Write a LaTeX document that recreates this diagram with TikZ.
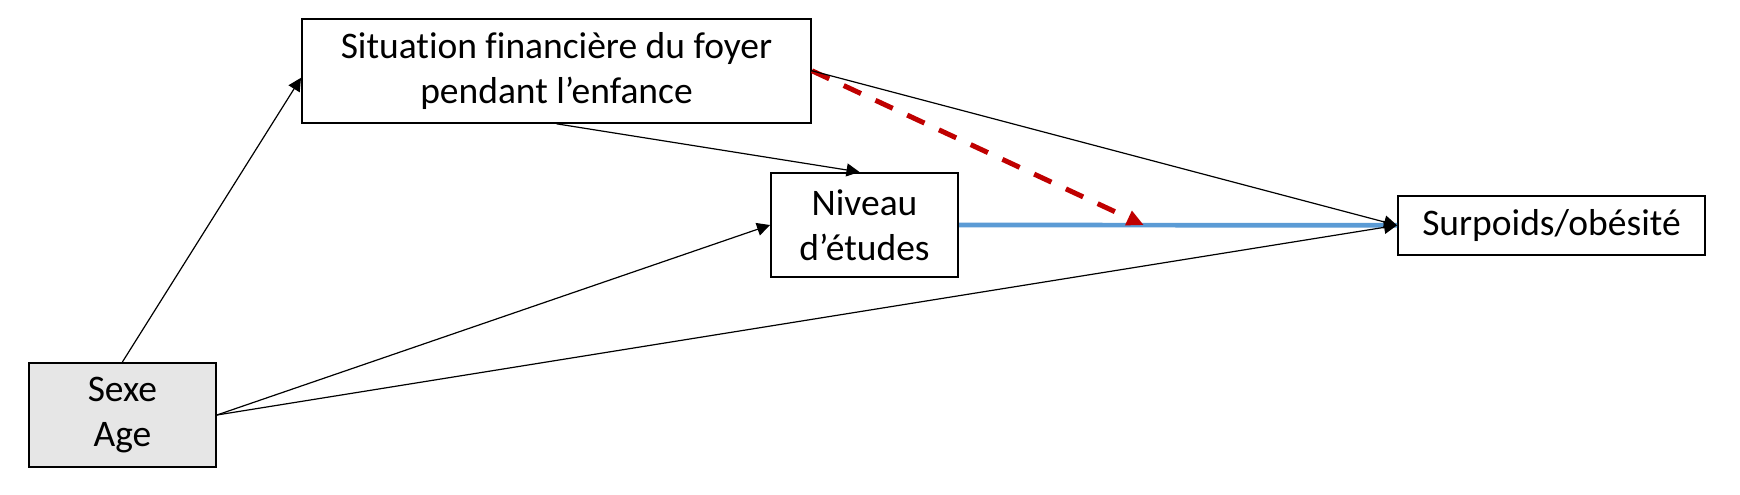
\documentclass[tikz,border=0pt]{standalone}
\usepackage{fontspec}
\setmainfont{Carlito}[Ligatures={NoCommon}]
\usetikzlibrary{arrows.meta,calc}
\definecolor{redarrow}{HTML}{C00000}
\definecolor{bluearrow}{HTML}{5B9BD5}
\definecolor{grayfill}{HTML}{E6E6E6}
\begin{document}
\begin{tikzpicture}[x=1pt,y=-1pt,
  box/.style={draw=black,line width=2pt,rectangle,inner sep=0pt,align=center,
    font=\fontsize{37.5}{45}\selectfont},
  conn/.style={draw=black,line width=1.2pt,-{Triangle[length=13pt,width=13pt]}},
  redconn/.style={draw=redarrow,line width=5pt,dash pattern=on 19pt off 16pt,
    -{Triangle[length=17pt,width=15pt]}},
  blueconn/.style={draw=bluearrow,line width=4.7pt}]
\useasboundingbox (0,0) rectangle (1740,495);
\fill[white] (0,0) rectangle (1740,495);
\node[box,minimum width=509pt,minimum height=104pt] (sit) at (556.5,70.8)
  {Situation financière du foyer\\pendant l’enfance};
\node[box,minimum width=187pt,minimum height=104pt] (niv) at (864.5,225)
  {Niveau\\d’études};
\node[box,minimum width=307pt,minimum height=59pt] (sur) at (1551.5,225.3)
  {Surpoids/obésité};
\node[box,fill=grayfill,minimum width=187pt,minimum height=104pt] (sexe) at (122.4,415)
  {Sexe\\Age};
\coordinate (redend) at ($(niv.east)!0.422!(sur.west)$);
\draw[blueconn] (niv.east) -- (sur.west);
\draw[redconn] (sit.east) -- (redend);
\draw[conn] (sit.east) -- (sur.west);
\draw[conn] (sexe.east) -- (sur.west);
\draw[conn] (sexe.east) -- (niv.west);
\draw[conn] (sexe.north) -- ([yshift=-7pt]sit.west);
\draw[conn] (sit.south) -- ([xshift=-5pt]niv.north);
\end{tikzpicture}
\end{document}
